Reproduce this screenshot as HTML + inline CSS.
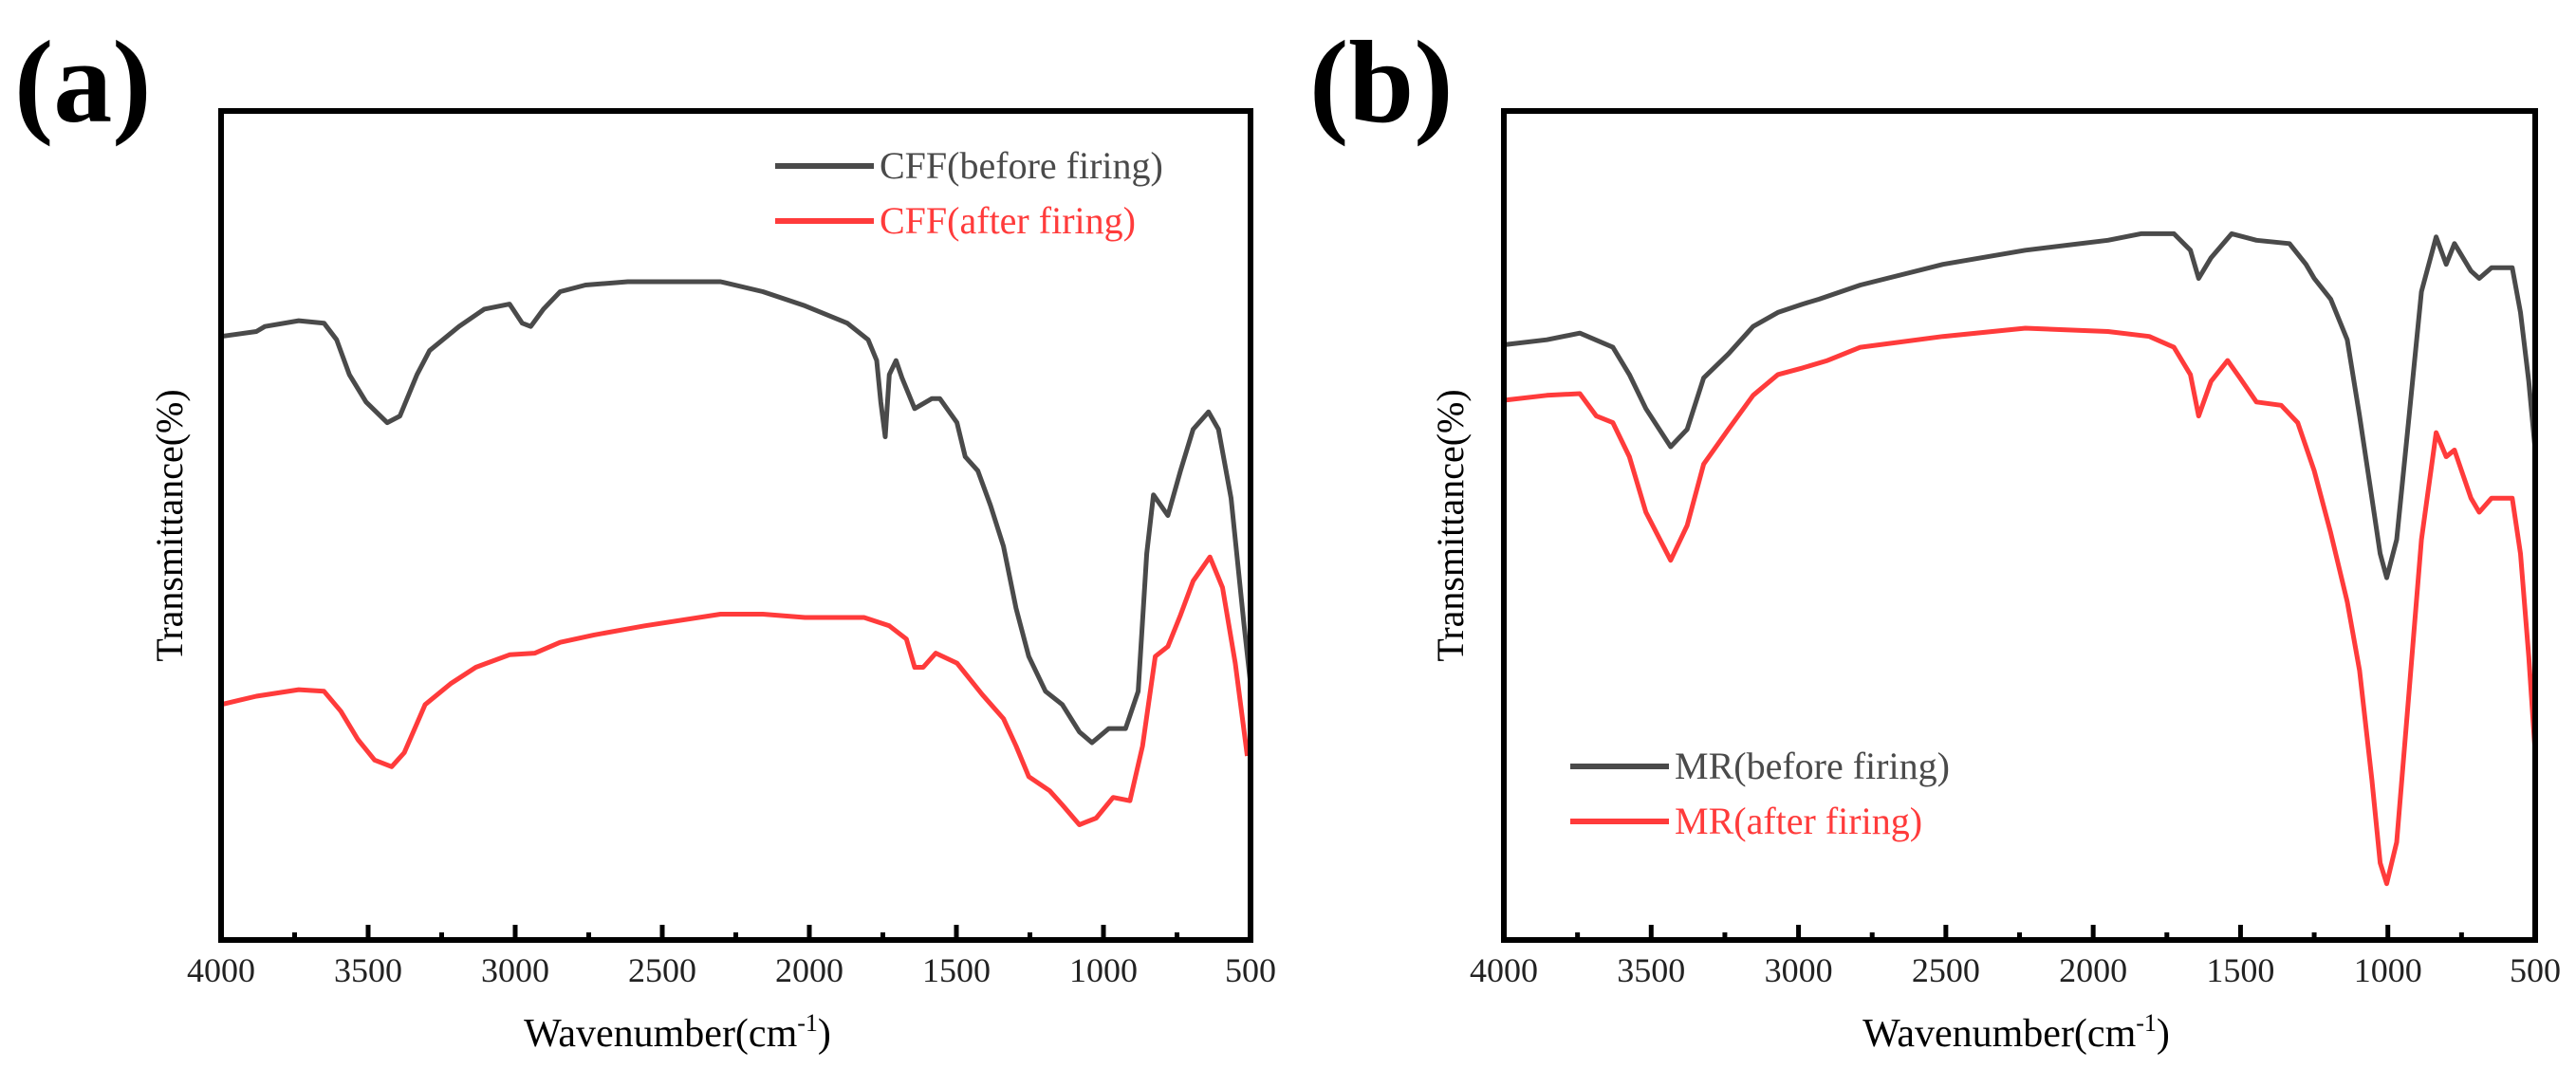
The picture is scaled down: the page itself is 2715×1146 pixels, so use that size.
<!DOCTYPE html>
<html><head><meta charset="utf-8"><style>
body{margin:0;background:#fff;}
svg text{font-family:"Liberation Serif",serif;}
</style></head><body>
<svg id="chart" width="2715" height="1141" viewBox="0 0 2715 1141" xmlns="http://www.w3.org/2000/svg"></svg>
<script>
const tickValues=[4000,3500,3000,2500,2000,1500,1000,500];
const minorTicks=[3750,3250,2750,2250,1750,1250,750];
const cffBeforeWn=[4000,3880,3851,3736,3650,3607,3564,3507,3435,3392,3334,3291,3191,3105,3019,2976,2947,2904,2847,2761,2617,2302,2158,2015,1871,1800,1771,1757,1742,1728,1705,1685,1642,1584,1556,1498,1470,1427,1384,1340,1297,1254,1197,1140,1082,1039,982,925,882,853,830,781,738,695,643,609,566,523,500];
const cffBeforeT=[72.8,73.4,74.0,74.7,74.4,72.4,68.2,64.9,62.4,63.2,68.2,71.1,74.0,76.1,76.7,74.4,74.0,76.1,78.2,79.0,79.4,79.4,78.2,76.5,74.4,72.4,69.9,64.9,60.7,68.2,69.9,67.8,64.1,65.3,65.3,62.4,58.3,56.6,52.4,47.5,40.0,34.2,30.0,28.4,25.1,23.8,25.5,25.5,30.0,46.6,53.7,51.2,56.6,61.6,63.7,61.6,53.3,38.3,30.9];
const cffAfterWn=[4000,3880,3736,3650,3593,3535,3478,3420,3377,3306,3220,3134,3019,2933,2847,2732,2560,2302,2158,2015,1814,1728,1670,1642,1613,1570,1498,1412,1340,1297,1254,1183,1140,1082,1025,967,910,867,824,781,738,695,638,595,552,511];
const cffAfterT=[28.4,29.4,30.2,30.0,27.6,24.2,21.7,20.9,22.6,28.4,30.9,32.9,34.4,34.6,35.9,36.8,37.9,39.3,39.3,38.9,38.9,37.9,36.3,32.9,32.9,34.6,33.4,29.6,26.7,23.4,19.7,18.0,16.3,13.9,14.7,17.2,16.8,23.4,34.2,35.4,39.2,43.3,46.2,42.5,33.4,22.2];
const mrBeforeWn=[4000,3854,3742,3630,3574,3518,3434,3378,3322,3238,3154,3070,2986,2930,2790,2510,2230,1950,1838,1726,1670,1642,1600,1530,1446,1334,1278,1250,1194,1138,1096,1054,1026,1004,970,928,886,836,802,774,718,690,648,578,550,522,500];
const mrBeforeT=[71.8,72.4,73.2,71.5,68.2,64.1,59.5,61.6,67.8,70.7,74.0,75.7,76.7,77.3,79.0,81.5,83.2,84.4,85.2,85.2,83.2,79.8,82.3,85.2,84.4,84.0,81.5,79.8,77.3,72.4,63.2,53.3,46.6,43.7,48.3,63.2,78.2,84.8,81.5,84.0,80.7,79.8,81.1,81.1,75.7,67.4,59.1];
const mrAfterWn=[4000,3854,3742,3686,3630,3574,3518,3434,3378,3322,3238,3154,3070,2986,2902,2790,2510,2230,1950,1810,1726,1670,1642,1600,1544,1502,1446,1362,1306,1250,1194,1138,1096,1054,1026,1004,970,928,886,836,802,774,718,690,648,578,550,522,500];
const mrAfterT=[65.1,65.7,65.9,63.2,62.4,58.3,51.6,45.8,50.0,57.4,61.6,65.7,68.2,69.0,69.9,71.5,72.8,73.8,73.4,72.8,71.5,68.2,63.2,67.4,69.9,67.8,64.9,64.5,62.4,56.6,49.1,40.8,32.5,19.3,9.3,6.8,11.8,30.0,48.3,61.2,58.3,59.1,53.3,51.6,53.3,53.3,46.6,34.2,22.6];

const NS="http://www.w3.org/2000/svg";
const svg=document.getElementById('chart');
function mk(tag,attrs,parent){const e=document.createElementNS(NS,tag);for(const k in attrs)e.setAttribute(k,attrs[k]);(parent||svg).appendChild(e);return e;}
const TOP=117,BOT=991;
function drawPanel(p){
  const g=mk('g',{});
  
  
  const L=p.left,R=p.right;
  const xs=w=>L+(4000-w)/3500*(R-L);
  const ys=v=>BOT-v/100*(BOT-TOP);
  const lab=mk('text',{x:p.labX,y:128,'font-size':124,'font-weight':'bold',fill:'#000'},g);lab.textContent=p.letter;
  
  
  p.series.forEach(s=>{
    const pts=s.wn.map((w,i)=>xs(w).toFixed(1)+','+ys(s.t[i]).toFixed(1)).join(' ');
    const pl=mk('polyline',{points:pts,fill:'none',stroke:s.color,'stroke-width':5,'stroke-linejoin':'round'},g);
    
    
  });
  tickValues.forEach(v=>{
    const x=xs(v);
    const t=mk('line',{x1:x,x2:x,y1:BOT,y2:BOT-16,stroke:'#000','stroke-width':5},g);
    
    
    const tl=mk('text',{x:x,y:1035,'font-size':36,'text-anchor':'middle',fill:'#222','font-family':'Liberation Sans, sans-serif'},g);
    tl.textContent=v;
    
    
  });
  minorTicks.forEach(v=>{
    const x=xs(v);
    const t=mk('line',{x1:x,x2:x,y1:BOT,y2:BOT-8,stroke:'#000','stroke-width':5},g);
    
    
  });
  const box=mk('rect',{x:L,y:TOP,width:R-L,height:BOT-TOP,fill:'none',stroke:'#000','stroke-width':6},g);
  
  
  const yl=mk('text',{x:0,y:0,'font-size':40,'text-anchor':'middle',fill:'#000',transform:`translate(${p.yLabX},554) rotate(-90)`},g);
  yl.textContent='Transmittance(%)';
  
  
  const xl=mk('text',{x:p.xLabX,y:1103,'font-size':42,'text-anchor':'middle',fill:'#000'},g);
  xl.innerHTML='Wavenumber(cm<tspan dy="-16" font-size="26">-1</tspan><tspan dy="16">)</tspan>';
  
  
  p.series.forEach((s,i)=>{
    const y=p.legY+i*58;
    const lg=mk('g',{},g);
    
    
    mk('line',{x1:p.legX,x2:p.legX+104,y1:y,y2:y,stroke:s.color,'stroke-width':6},lg);
    const tx=mk('text',{x:p.legX+110,y:y+13,'font-size':40,fill:s.color},lg);
    tx.textContent=s.label;
  });
}
drawPanel({id:'cff',letter:'(a)',labX:15,left:233,right:1318,yLabX:192,xLabX:714,legX:817,legY:175,
  series:[{name:'cff-before-line',label:'CFF(before firing)',color:'#4a4a4a',wn:cffBeforeWn,t:cffBeforeT},
          {name:'cff-after-line',label:'CFF(after  firing)',color:'#ff3b3b',wn:cffAfterWn,t:cffAfterT}]});
drawPanel({id:'mr',letter:'(b)',labX:1380,left:1585,right:2672,yLabX:1542,xLabX:2125,legX:1655,legY:808,
  series:[{name:'mr-before-line',label:'MR(before firing)',color:'#4a4a4a',wn:mrBeforeWn,t:mrBeforeT},
          {name:'mr-after-line',label:'MR(after  firing)',color:'#ff3b3b',wn:mrAfterWn,t:mrAfterT}]});
</script>
</body></html>
